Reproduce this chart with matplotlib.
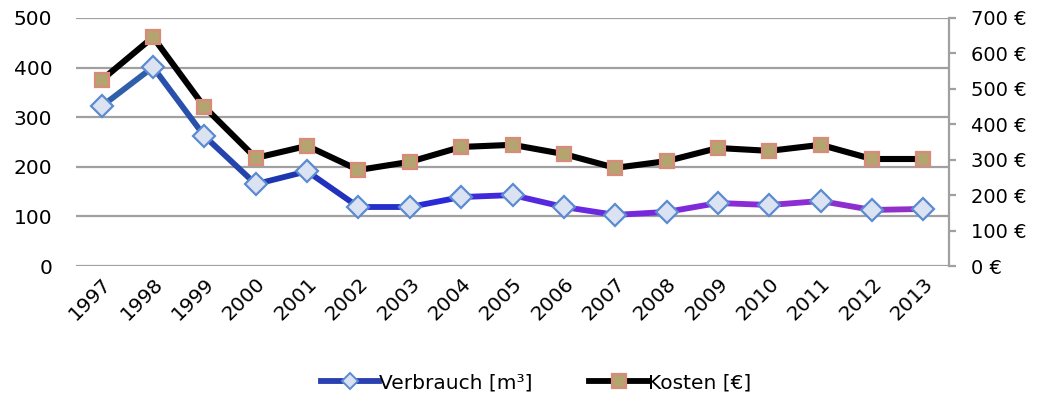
import numpy as np
import matplotlib
matplotlib.use('Agg')
import matplotlib.pyplot as plt
from matplotlib.collections import LineCollection
from matplotlib.lines import Line2D
from matplotlib.colors import LinearSegmentedColormap

plt.rcParams['font.family'] = ['DejaVu Sans']

years = ['1997', '1998', '1999', '2000', '2001', '2002', '2003', '2004', '2005',
         '2006', '2007', '2008', '2009', '2010', '2011', '2012', '2013']
verbrauch = [322, 401, 262, 165, 191, 119, 119, 139, 143, 119, 103, 109, 127, 123, 131, 113, 115]
kosten = [525, 646, 449, 305, 339, 271, 294, 336, 342, 316, 277, 296, 333, 325, 342, 302, 302]
left_ticks = [0, 100, 200, 300, 400, 500]
right_ticks = [0, 100, 200, 300, 400, 500, 600, 700]

fig = plt.figure(figsize=(10.51, 4.05), dpi=100)
ax = fig.add_axes([0.0723, 0.3432, 0.8307, 0.6124])
ax2 = ax.twinx()

x = np.arange(len(years))

# gradient line for Verbrauch (blue -> purple), one colour per segment
cmap = LinearSegmentedColormap.from_list('vb', ['#2f5fa8', '#1e36b0', '#2a2ad8', '#6a28e0', '#8a2ad8', '#9030c8'])
pts = np.column_stack([x, verbrauch]).reshape(-1, 1, 2)
segs = np.concatenate([pts[:-1], pts[1:]], axis=1)
lc = LineCollection(segs, colors=cmap(np.linspace(0, 1, len(segs))), linewidth=4.2,
                    capstyle='round', joinstyle='round', zorder=3)
ax.add_collection(lc)
ax.plot(x, verbrauch, linestyle='none', marker='D', markersize=11,
        markerfacecolor='#dbe2f2', markeredgecolor='#5b8bd0', markeredgewidth=1.6, zorder=4)

ax2.plot(x, kosten, color='black', linewidth=4.4, solid_joinstyle='round', zorder=3,
         marker='s', markersize=10, markerfacecolor='#b3a470', markeredgecolor='#d98a78',
         markeredgewidth=1.6)

ax.set_xlim(-0.5, len(years) - 0.5)
ax.set_ylim(0, 500)
ax2.set_ylim(0, 700)
ax.set_yticks(left_ticks)
ax2.set_yticks(right_ticks)
ax2.set_yticklabels([f'{v} €' for v in right_ticks])
ax.set_xticks(x)
ax.set_xticklabels(years, rotation=45, ha='right', rotation_mode='anchor')

ax.grid(axis='y', color='#a0a0a0', linewidth=1.6)
ax.set_axisbelow(True)
for a in (ax, ax2):
    for s in ('top', 'left', 'bottom'):
        a.spines[s].set_visible(False)
ax.spines['right'].set_visible(False)
ax2.spines['right'].set_color('#a0a0a0')
ax2.spines['right'].set_linewidth(1.6)

ax.tick_params(axis='x', length=0, labelsize=14.5, pad=6)
ax.tick_params(axis='y', length=0, labelsize=14.5, pad=17)
ax2.tick_params(axis='y', length=5, width=1.6, color='#a0a0a0', labelsize=14, pad=11)

h1 = Line2D([], [], color='#2a3fb0', linewidth=4.2, marker='D', markersize=8,
            markerfacecolor='#dbe2f2', markeredgecolor='#5b8bd0', markeredgewidth=1.4)
h2 = Line2D([], [], color='black', linewidth=4.2, marker='s', markersize=10,
            markerfacecolor='#b3a470', markeredgecolor='#d98a78', markeredgewidth=1.6)
fig.legend([h1, h2], ['Verbrauch [m³]', 'Kosten [€]'], loc='center', bbox_to_anchor=(0.51, 0.055),
           ncol=2, frameon=False, fontsize=14.5, handlelength=2.9, handletextpad=0.0,
           columnspacing=2.8)

fig.savefig('out.png', dpi=100)
